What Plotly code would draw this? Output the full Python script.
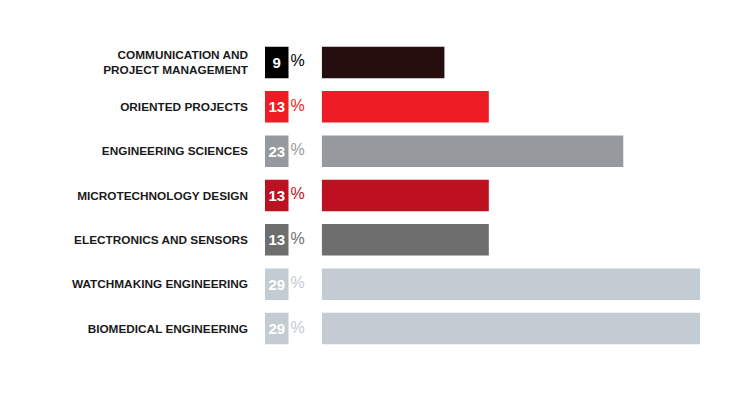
import plotly.graph_objects as go

categories = [
    "COMMUNICATION AND<br>PROJECT MANAGEMENT",
    "ORIENTED PROJECTS",
    "ENGINEERING SCIENCES",
    "MICROTECHNOLOGY DESIGN",
    "ELECTRONICS AND SENSORS",
    "WATCHMAKING ENGINEERING",
    "BIOMEDICAL ENGINEERING",
]
bar_values = [9.4, 12.8, 23.1, 12.8, 12.8, 29, 29]
label_values = [9, 13, 23, 13, 13, 29, 29]
bar_colors = ["#260d0e", "#ee1c25", "#969a9e", "#bd1122", "#6e6e6e", "#c2ccd2", "#c2ccd2"]
box_colors = ["#000000", "#ee1c25", "#969a9e", "#bd1122", "#6e6e6e", "#c2ccd2", "#c2ccd2"]
pct_colors = ["#000000", "#ee1c25", "#969a9e", "#bd1122", "#6e6e6e", "#c2ccd2", "#c2ccd2"]

W, H = 740, 397
FONT = "Liberation Sans, Arial, sans-serif"
OFF = 8  # page body margin

fig = go.Figure()

# main bars
fig.add_trace(go.Bar(
    x=bar_values, y=categories, orientation="h",
    marker=dict(color=bar_colors, line=dict(width=0)),
    xaxis="x", yaxis="y", hoverinfo="skip", showlegend=False,
))

# number boxes
fig.add_trace(go.Bar(
    x=[1] * len(categories), y=categories, orientation="h",
    marker=dict(color=box_colors, line=dict(width=0)),
    text=[str(v) for v in label_values], textposition="inside",
    insidetextanchor="middle", constraintext="none",
    textfont=dict(family=FONT, size=15, color="white", weight="bold"),
    xaxis="x2", yaxis="y", hoverinfo="skip", showlegend=False,
))

# percent signs
fig.add_trace(go.Scatter(
    x=[1.08] * len(categories), y=categories, mode="text",
    text=["%"] * len(categories), textposition="middle right",
    textfont=dict(family=FONT, size=16, color=pct_colors),
    xaxis="x2", yaxis="y", hoverinfo="skip", showlegend=False,
))

bar_left, bar_right = 321.7 - OFF, 700.3 - OFF
box_left, box_w = 265.0 - OFF, 23.5
x2_right = 320.0 - OFF
top_px, bottom_px = 40.3 - OFF, 350.7 - OFF

fig.update_layout(
    width=W, height=H,
    margin=dict(l=0, r=0, t=0, b=0),
    paper_bgcolor="white", plot_bgcolor="white",
    bargap=0.29,
    xaxis=dict(domain=[bar_left / W, bar_right / W], range=[0, 29],
               visible=False, fixedrange=True),
    xaxis2=dict(domain=[box_left / W, x2_right / W],
                range=[0, (x2_right - box_left) / box_w],
                visible=False, fixedrange=True, anchor="y"),
    yaxis=dict(domain=[1 - bottom_px / H, 1 - top_px / H],
               autorange="reversed", anchor="x2",
               showgrid=False, showline=False, zeroline=False,
               ticks="", ticklabelstandoff=16,
               tickfont=dict(family=FONT, size=11.8, color="#1a1a1a", weight="bold")),
)

fig.write_html("out.html")
